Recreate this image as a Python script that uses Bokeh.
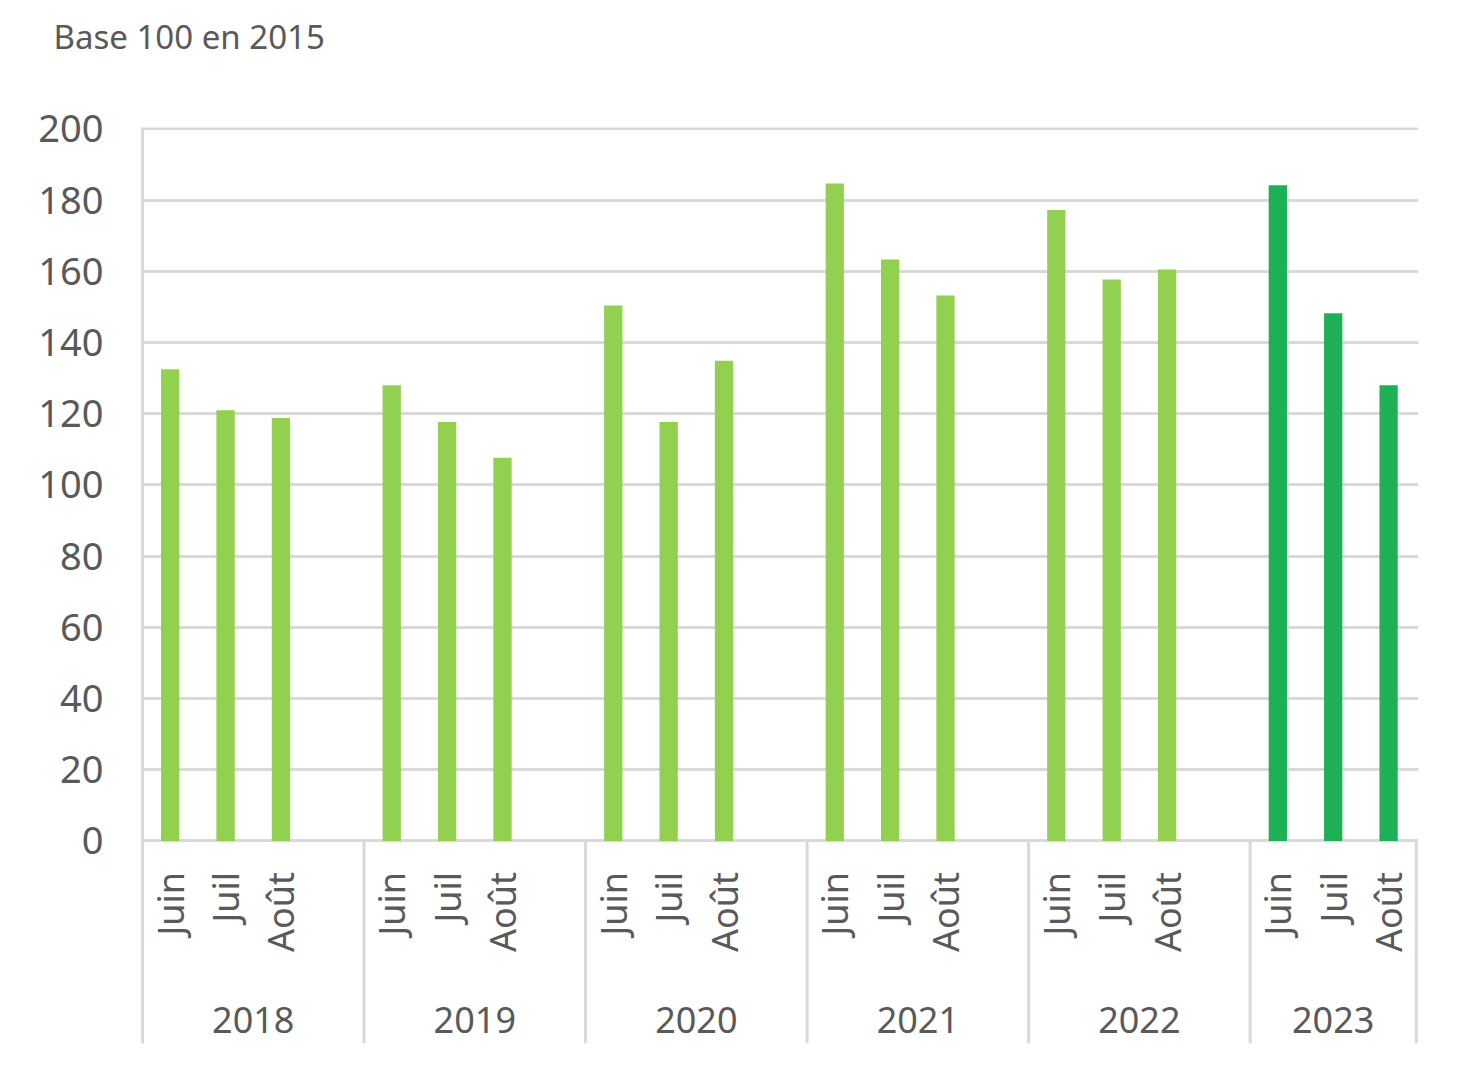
import math
from bokeh.plotting import figure
from bokeh.models import ColumnDataSource, FixedTicker, Range1d, Title
from bokeh.core.properties import value
from bokeh.embed import file_html
from bokeh.resources import INLINE

# ---- data -------------------------------------------------------------
years = ["2018", "2019", "2020", "2021", "2022", "2023"]
months = ["Juin", "Juil", "Août"]
index_2018 = [132.5, 121.0, 118.8]
index_2019 = [128.0, 117.7, 107.6]
index_2020 = [150.4, 117.7, 134.9]
index_2021 = [184.7, 163.3, 153.2]
index_2022 = [177.2, 157.7, 160.5]
index_2023 = [184.2, 148.2, 128.0]
series = [index_2018, index_2019, index_2020, index_2021, index_2022, index_2023]
y_ticks = list(range(0, 201, 20))
unit_label = "Base 100 en 2015"

# ---- style ------------------------------------------------------------
FONT = "Noto Sans"
TEXT = "#595959"
GRID = "#D9D9D9"
LIGHT = "#92D050"
DARK = "#1DB054"

# ---- build slots (one empty slot between years) ----------------------
xs, tops, colors, mlabels = [], [], [], []
group_start, group_end = [], []
slot = 0
for gi, (yr, vals) in enumerate(zip(years, series)):
    group_start.append(slot)
    for m, v in zip(months, vals):
        xs.append(slot + 0.5)
        tops.append(v)
        colors.append(DARK if gi == len(years) - 1 else LIGHT)
        mlabels.append(m)
        slot += 1
    if gi < len(years) - 1:
        slot += 1
    group_end.append(slot)
n_slots = slot
year_centers = [(a + b) / 2 for a, b in zip(group_start, group_end)]

frame_w, frame_h = 1276, 916
y_top = 200.4
px_per_unit = 712 / 200
y_bottom = -(frame_h / px_per_unit - y_top)
x_end = n_slots + 0.04

p = figure(width=1458, height=1073, title=None,
           x_range=Range1d(0, x_end), y_range=Range1d(y_bottom, y_top),
           output_backend="svg", toolbar_location=None, x_axis_location=None,
           min_border_left=142, min_border_right=40, min_border_top=127,
           min_border_bottom=30)
p.outline_line_color = None
p.background_fill_color = "white"
p.border_fill_color = "white"

# spacer (nearest the frame) then the unit note on top
p.add_layout(Title(text=" ", text_font=FONT, text_font_size="10px",
                   standoff=38), "above")
p.add_layout(Title(text=unit_label, align="left", offset=-89, standoff=25,
                   vertical_align="top", text_font=FONT, text_font_size="33px",
                   text_font_style="normal", text_color=TEXT), "above")

p.yaxis.ticker = FixedTicker(ticks=y_ticks)
p.yaxis.axis_line_color = GRID
p.yaxis.axis_line_width = 3
p.yaxis.major_tick_line_color = None
p.yaxis.minor_tick_line_color = None
p.yaxis.major_label_text_font = FONT
p.yaxis.major_label_text_font_size = "38px"
p.yaxis.major_label_text_color = TEXT
p.yaxis.major_label_standoff = 33
p.ygrid.grid_line_color = GRID
p.ygrid.grid_line_width = 3
p.xgrid.visible = False

src = ColumnDataSource(dict(x=xs, top=tops, color=colors))
p.vbar(x="x", top="top", bottom=0, width=0.33, fill_color="color",
       line_color=None, source=src)

# group separators below the axis
p.segment(x0=group_end, y0=[0] * len(group_end), x1=group_end,
          y1=[y_bottom] * len(group_end), line_color=GRID, line_width=3)

# month labels (vertical)
p.text(x=xs, y=[-31 / px_per_unit] * len(xs), text=mlabels, angle=math.pi / 2,
       text_align="right", text_baseline="middle", text_font=value(FONT),
       text_font_size="36px", text_color=TEXT)

# year labels
p.text(x=year_centers, y=[-179 / px_per_unit] * len(years), text=years,
       text_align="center", text_baseline="middle", text_font=value(FONT),
       text_font_size="36px", text_color=TEXT)

with open("out.html", "w", encoding="utf-8") as f:
    f.write(file_html(p, INLINE))
